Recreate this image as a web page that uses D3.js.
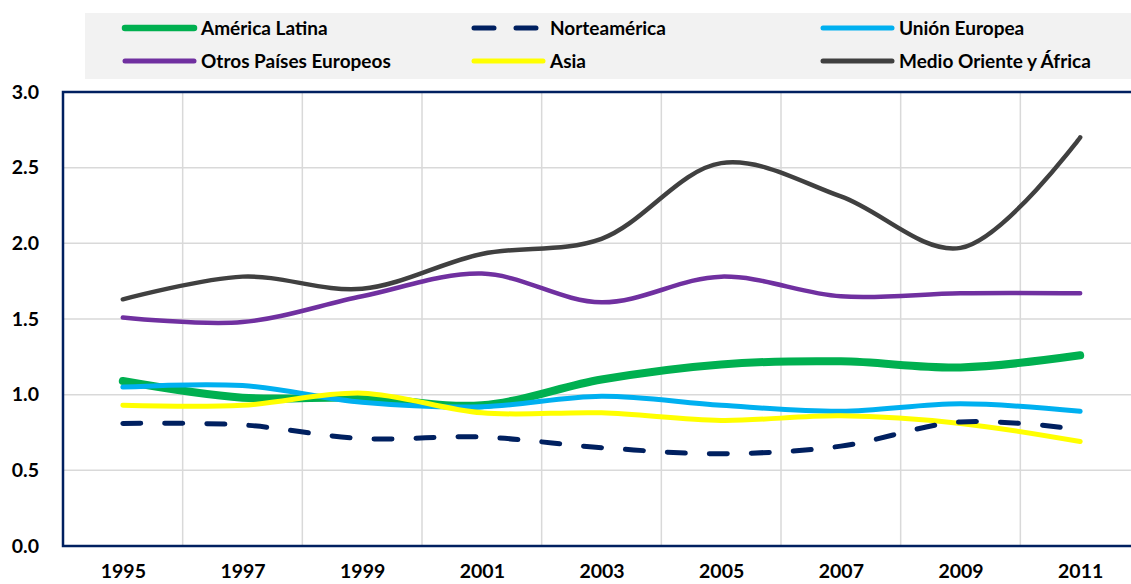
<!DOCTYPE html>
<meta charset="utf-8">
<style>
body { margin: 0; background: #fff; }
text { font-family: Lato, "Open Sans", sans-serif; font-weight: bold; fill: #000; }
.grid line { stroke: #d9d9d9; stroke-width: 1.5px; }
</style>
<svg width="1131" height="584"></svg>
<script src="https://d3js.org/d3.v7.min.js"></script>
<script>

var years = [1995, 1997, 1999, 2001, 2003, 2005, 2007, 2009, 2011];
var yTicks = [0, 0.5, 1.0, 1.5, 2.0, 2.5, 3.0];

var americaLatina = [1.09, 0.98, 0.98, 0.93, 1.10, 1.20, 1.22, 1.18, 1.26];
var norteamerica  = [0.81, 0.80, 0.71, 0.72, 0.65, 0.61, 0.66, 0.82, 0.77];
var unionEuropea  = [1.05, 1.06, 0.95, 0.92, 0.99, 0.93, 0.89, 0.94, 0.89];
var otrosEuropeos = [1.51, 1.48, 1.65, 1.80, 1.61, 1.78, 1.65, 1.67, 1.67];
var asia          = [0.93, 0.93, 1.01, 0.88, 0.88, 0.83, 0.86, 0.81, 0.69];
var medioOriente  = [1.63, 1.78, 1.70, 1.93, 2.03, 2.53, 2.31, 1.97, 2.70];

var series = [
  {name: "América Latina", values: americaLatina, color: "#00b050", width: 8, legendWidth: 6.5, col: 0, row: 0},
  {name: "Norteamérica", values: norteamerica, color: "#002060", width: 5, legendWidth: 5, dash: "18,24", col: 1, row: 0},
  {name: "Unión Europea", values: unionEuropea, color: "#00b0f0", width: 5, legendWidth: 5, col: 2, row: 0},
  {name: "Otros Países Europeos", values: otrosEuropeos, color: "#7030a0", width: 4.5, legendWidth: 5, col: 0, row: 1},
  {name: "Asia", values: asia, color: "#ffff00", width: 5, legendWidth: 5, col: 1, row: 1},
  {name: "Medio Oriente y África", values: medioOriente, color: "#404040", width: 4.5, legendWidth: 5, col: 2, row: 1}
];

var drawOrder = [0, 2, 3, 4, 1, 5];

var svg = d3.select("svg");

var x = d3.scaleLinear().domain([1994, 2012]).range([63, 1140]);
var y = d3.scaleLinear().domain([0, 3]).range([546, 92]);

// legend
svg.append("rect")
    .attr("x", 85).attr("y", 13)
    .attr("width", 1060).attr("height", 66)
    .attr("fill", "#f2f2f2");

var colX = [123, 472, 821];
var rowY = [28, 61];

var legend = svg.selectAll(".legend")
  .data(series)
  .enter().append("g")
    .attr("class", "legend")
    .attr("transform", function(d) { return "translate(" + colX[d.col] + "," + rowY[d.row] + ")"; });

legend.append("line")
    .attr("x1", 2).attr("x2", 71)
    .attr("stroke", function(d) { return d.color; })
    .attr("stroke-width", function(d) { return d.legendWidth; })
    .attr("stroke-linecap", "round")
    .attr("stroke-dasharray", function(d) { return d.dash ? "20,22" : null; });

legend.append("text")
    .attr("x", 78)
    .attr("dy", "0.35em")
    .style("font-size", "19px")
    .text(function(d) { return d.name; });

// gridlines
var grid = svg.append("g").attr("class", "grid");

grid.selectAll(".h")
  .data(yTicks.slice(1))
  .enter().append("line")
    .attr("x1", 63).attr("x2", 1140)
    .attr("y1", function(d) { return y(d); })
    .attr("y2", function(d) { return y(d); });

grid.selectAll(".v")
  .data(years.map(function(d) { return d + 1; }))
  .enter().append("line")
    .attr("x1", function(d) { return x(d); })
    .attr("x2", function(d) { return x(d); })
    .attr("y1", 92).attr("y2", 546);

// frame
svg.append("rect")
    .attr("x", 63).attr("y", 92)
    .attr("width", 1080).attr("height", 454)
    .attr("fill", "none")
    .attr("stroke", "#002060")
    .attr("stroke-width", 2.5);

// axes labels
var yAxis = d3.axisLeft(y).tickValues(yTicks).tickFormat(d3.format(".1f")).tickSize(0).tickPadding(24);
svg.append("g")
    .attr("transform", "translate(63,0)")
    .call(yAxis)
    .call(function(g) { g.select(".domain").remove(); })
    .selectAll("text")
      .style("font-size", "19.5px")
      .attr("fill", "#000");

var xAxis = d3.axisBottom(x).tickValues(years).tickFormat(d3.format("d")).tickSize(0).tickPadding(18);
svg.append("g")
    .attr("transform", "translate(0,546)")
    .call(xAxis)
    .call(function(g) { g.select(".domain").remove(); })
    .selectAll("text")
      .style("font-size", "19.5px")
      .attr("fill", "#000");

// lines
var line = d3.line()
    .x(function(d, i) { return x(years[i]); })
    .y(function(d) { return y(d); })
    .curve(d3.curveCatmullRom.alpha(0.5));

svg.selectAll(".series")
  .data(drawOrder.map(function(i) { return series[i]; }))
  .enter().append("path")
    .attr("class", "series")
    .attr("d", function(d) { return line(d.values); })
    .attr("fill", "none")
    .attr("stroke", function(d) { return d.color; })
    .attr("stroke-width", function(d) { return d.width; })
    .attr("stroke-linecap", "round")
    .attr("stroke-linejoin", "round")
    .attr("stroke-dasharray", function(d) { return d.dash || null; });

</script>
